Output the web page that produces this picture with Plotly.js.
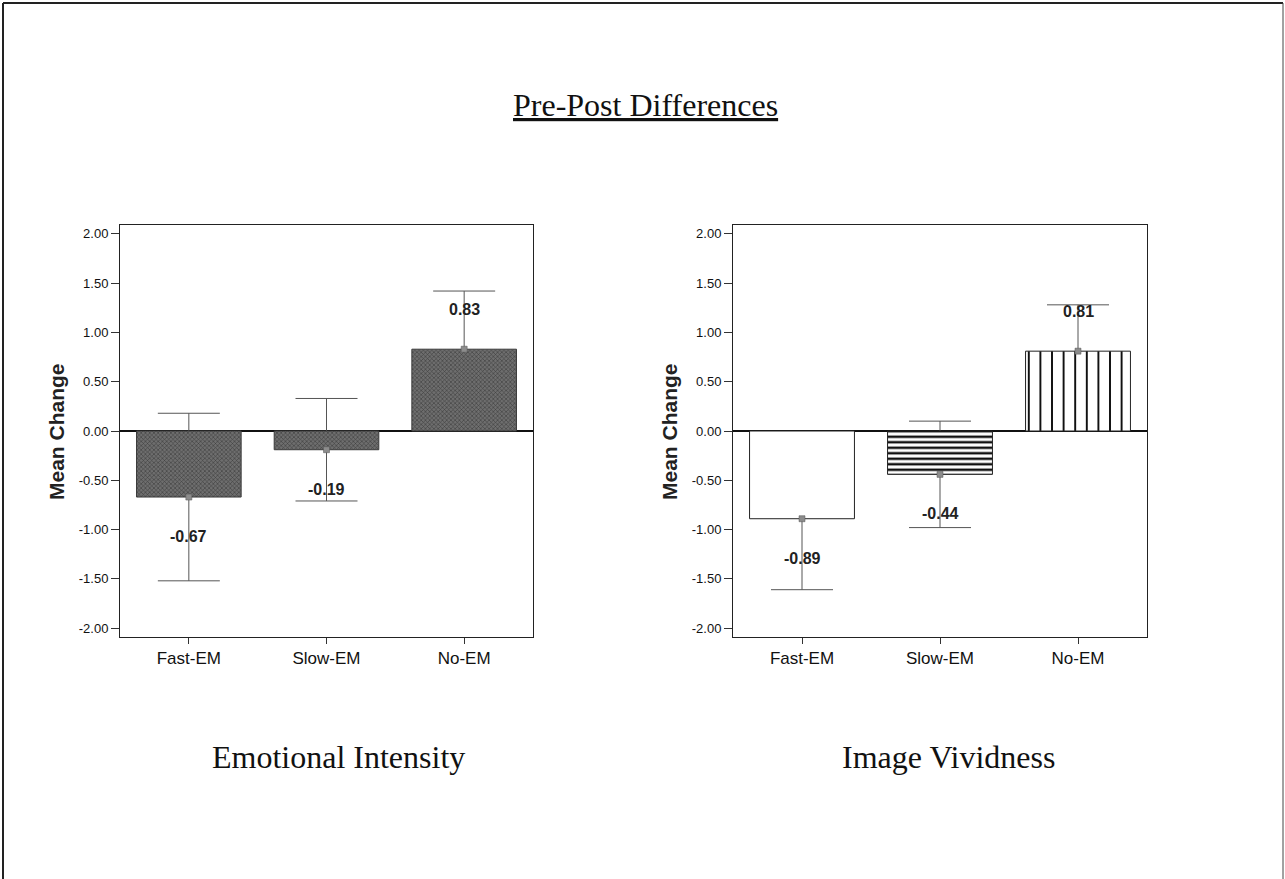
<!DOCTYPE html>
<html>
<head>
<meta charset="utf-8">
<script src="https://cdn.plot.ly/plotly-3.0.1.min.js"></script>
<style>
  html, body { margin: 0; padding: 0; background: #fff; }
  #chart { width: 1285px; height: 879px; }
</style>
</head>
<body>
<div id="chart"></div>
<script>
// ---- data ----
const categories = ['Fast-EM', 'Slow-EM', 'No-EM'];
const intensityMeans = [-0.67, -0.19, 0.83];
const intensityErrors = [0.85, 0.52, 0.59];
const vividnessMeans = [-0.89, -0.44, 0.81];
const vividnessErrors = [0.72, 0.54, 0.47];
const tickValues = [-2, -1.5, -1, -0.5, 0, 0.5, 1, 1.5, 2];
const tickLabels = ['-2.00', '-1.50', '-1.00', '-0.50', '0.00', '0.50', '1.00', '1.50', '2.00'];
const mainTitle = 'Pre-Post Differences';
const panelTitles = ['Emotional Intensity', 'Image Vividness'];
const yTitle = 'Mean Change';

// ---- layout helpers ----
const W = 1285, H = 879;
const px = v => v / W;
const py = v => 1 - v / H;
const labelOffset = 0.4;
const SANS = 'Liberation Sans, Arial, sans-serif';
const SERIF = 'Liberation Serif, Times New Roman, serif';

function errTrace(means, errs, xa, ya) {
  return {
    type: 'bar', x: categories, y: means, xaxis: xa, yaxis: ya,
    width: 0.76, hoverinfo: 'skip', showlegend: false,
    marker: { color: 'rgba(0,0,0,0)', line: { width: 0 } },
    error_y: { type: 'data', array: errs, visible: true, color: '#555', thickness: 1, width: 31 }
  };
}

const traces = [
  errTrace(intensityMeans, intensityErrors, 'x', 'y'),
  {
    type: 'bar', x: categories, y: intensityMeans, xaxis: 'x', yaxis: 'y',
    width: 0.76, showlegend: false,
    marker: {
      color: '#666666',
      line: { color: '#3a3a3a', width: 1 },
      pattern: { shape: 'x', fgcolor: '#3c3c3c', bgcolor: '#6e6e6e', size: 3, solidity: 0.35 }
    }
  },
  errTrace(vividnessMeans, vividnessErrors, 'x2', 'y2'),
  {
    type: 'bar', x: categories, y: vividnessMeans, xaxis: 'x2', yaxis: 'y2',
    width: 0.76, showlegend: false,
    marker: {
      color: '#ffffff',
      line: { color: '#222', width: 1 },
      pattern: {
        shape: ['', '-', '|'],
        fgcolor: '#111', bgcolor: '#ffffff',
        size: [8, 5.5, 11.6], solidity: [0.1, 0.45, 0.17]
      }
    }
  },
  {
    type: 'scatter', mode: 'markers', x: categories, y: intensityMeans, xaxis: 'x', yaxis: 'y',
    showlegend: false, hoverinfo: 'skip',
    marker: { symbol: 'square', size: 6, color: '#8c8c8c', line: { color: '#555', width: 0.5 } }
  },
  {
    type: 'scatter', mode: 'markers', x: categories, y: vividnessMeans, xaxis: 'x2', yaxis: 'y2',
    showlegend: false, hoverinfo: 'skip',
    marker: { symbol: 'square', size: 6, color: '#8c8c8c', line: { color: '#555', width: 0.5 } }
  }
];

function xAxis(d0, d1, anchor) {
  return {
    domain: [px(d0), px(d1)], anchor: anchor, type: 'category', range: [-0.5, 2.5],
    showline: true, mirror: true, linecolor: '#222', linewidth: 1,
    ticks: 'outside', ticklen: 6, tickcolor: '#333',
    showgrid: false, zeroline: false, fixedrange: true,
    tickfont: { family: SANS, size: 17, color: '#111' }
  };
}
function yAxis(anchor) {
  return {
    domain: [py(637), py(225)], anchor: anchor, range: [-2.09, 2.09],
    tickvals: tickValues, ticktext: tickLabels,
    showline: true, mirror: true, linecolor: '#222', linewidth: 1,
    ticks: 'outside', ticklen: 8, tickcolor: '#333',
    showgrid: false, zeroline: true, zerolinecolor: '#111', zerolinewidth: 1.5,
    fixedrange: true,
    tickfont: { family: SANS, size: 13, color: '#111' }
  };
}

const annotations = [];
function addValueLabels(means, xr, yr) {
  means.forEach((m, i) => {
    annotations.push({
      x: categories[i], y: m + (m < 0 ? -labelOffset : labelOffset), xref: xr, yref: yr,
      xanchor: 'center', yanchor: 'middle',
      text: '<b>' + m.toFixed(2) + '</b>', showarrow: false,
      font: { family: SANS, size: 16, color: '#222' }
    });
  });
}
addValueLabels(intensityMeans, 'x', 'y');
addValueLabels(vividnessMeans, 'x2', 'y2');

[56, 669].forEach(xc => {
  annotations.push({
    xref: 'paper', yref: 'paper', x: px(xc), y: py(432), xanchor: 'center', yanchor: 'middle',
    textangle: -90, showarrow: false, text: '<b>' + yTitle + '</b>',
    font: { family: SANS, size: 21, color: '#222' }
  });
});

annotations.push({
  xref: 'paper', yref: 'paper', x: px(645), y: py(105), xanchor: 'center', yanchor: 'middle', showarrow: false,
  text: '<u>' + mainTitle + '</u>',
  font: { family: SERIF, size: 32, color: '#111' }
});
annotations.push({
  xref: 'paper', yref: 'paper', x: px(338), y: py(757), xanchor: 'center', yanchor: 'middle', showarrow: false,
  text: panelTitles[0],
  font: { family: SERIF, size: 32, color: '#111' }
});
annotations.push({
  xref: 'paper', yref: 'paper', x: px(948), y: py(757), xanchor: 'center', yanchor: 'middle', showarrow: false,
  text: panelTitles[1],
  font: { family: SERIF, size: 32, color: '#111' }
});

const shapes = [
  { type: 'line', xref: 'paper', yref: 'paper', x0: px(3), x1: px(3), y0: 0, y1: py(3), line: { color: '#222', width: 2 } },
  { type: 'line', xref: 'paper', yref: 'paper', x0: px(3), x1: px(1283), y0: py(3), y1: py(3), line: { color: '#222', width: 2 } },
  { type: 'line', xref: 'paper', yref: 'paper', x0: px(1283), x1: px(1283), y0: 0, y1: py(3), line: { color: '#444', width: 1 } }
];

const layout = {
  width: W, height: H,
  margin: { l: 0, r: 0, t: 0, b: 0, pad: 0 },
  paper_bgcolor: '#ffffff', plot_bgcolor: '#ffffff',
  barmode: 'overlay', showlegend: false,
  xaxis: xAxis(120, 533, 'y'),
  yaxis: yAxis('x'),
  xaxis2: xAxis(733, 1147, 'y2'),
  yaxis2: yAxis('x2'),
  annotations: annotations,
  shapes: shapes
};

Plotly.newPlot('chart', traces, layout, { displayModeBar: false, staticPlot: true });
</script>
</body>
</html>
